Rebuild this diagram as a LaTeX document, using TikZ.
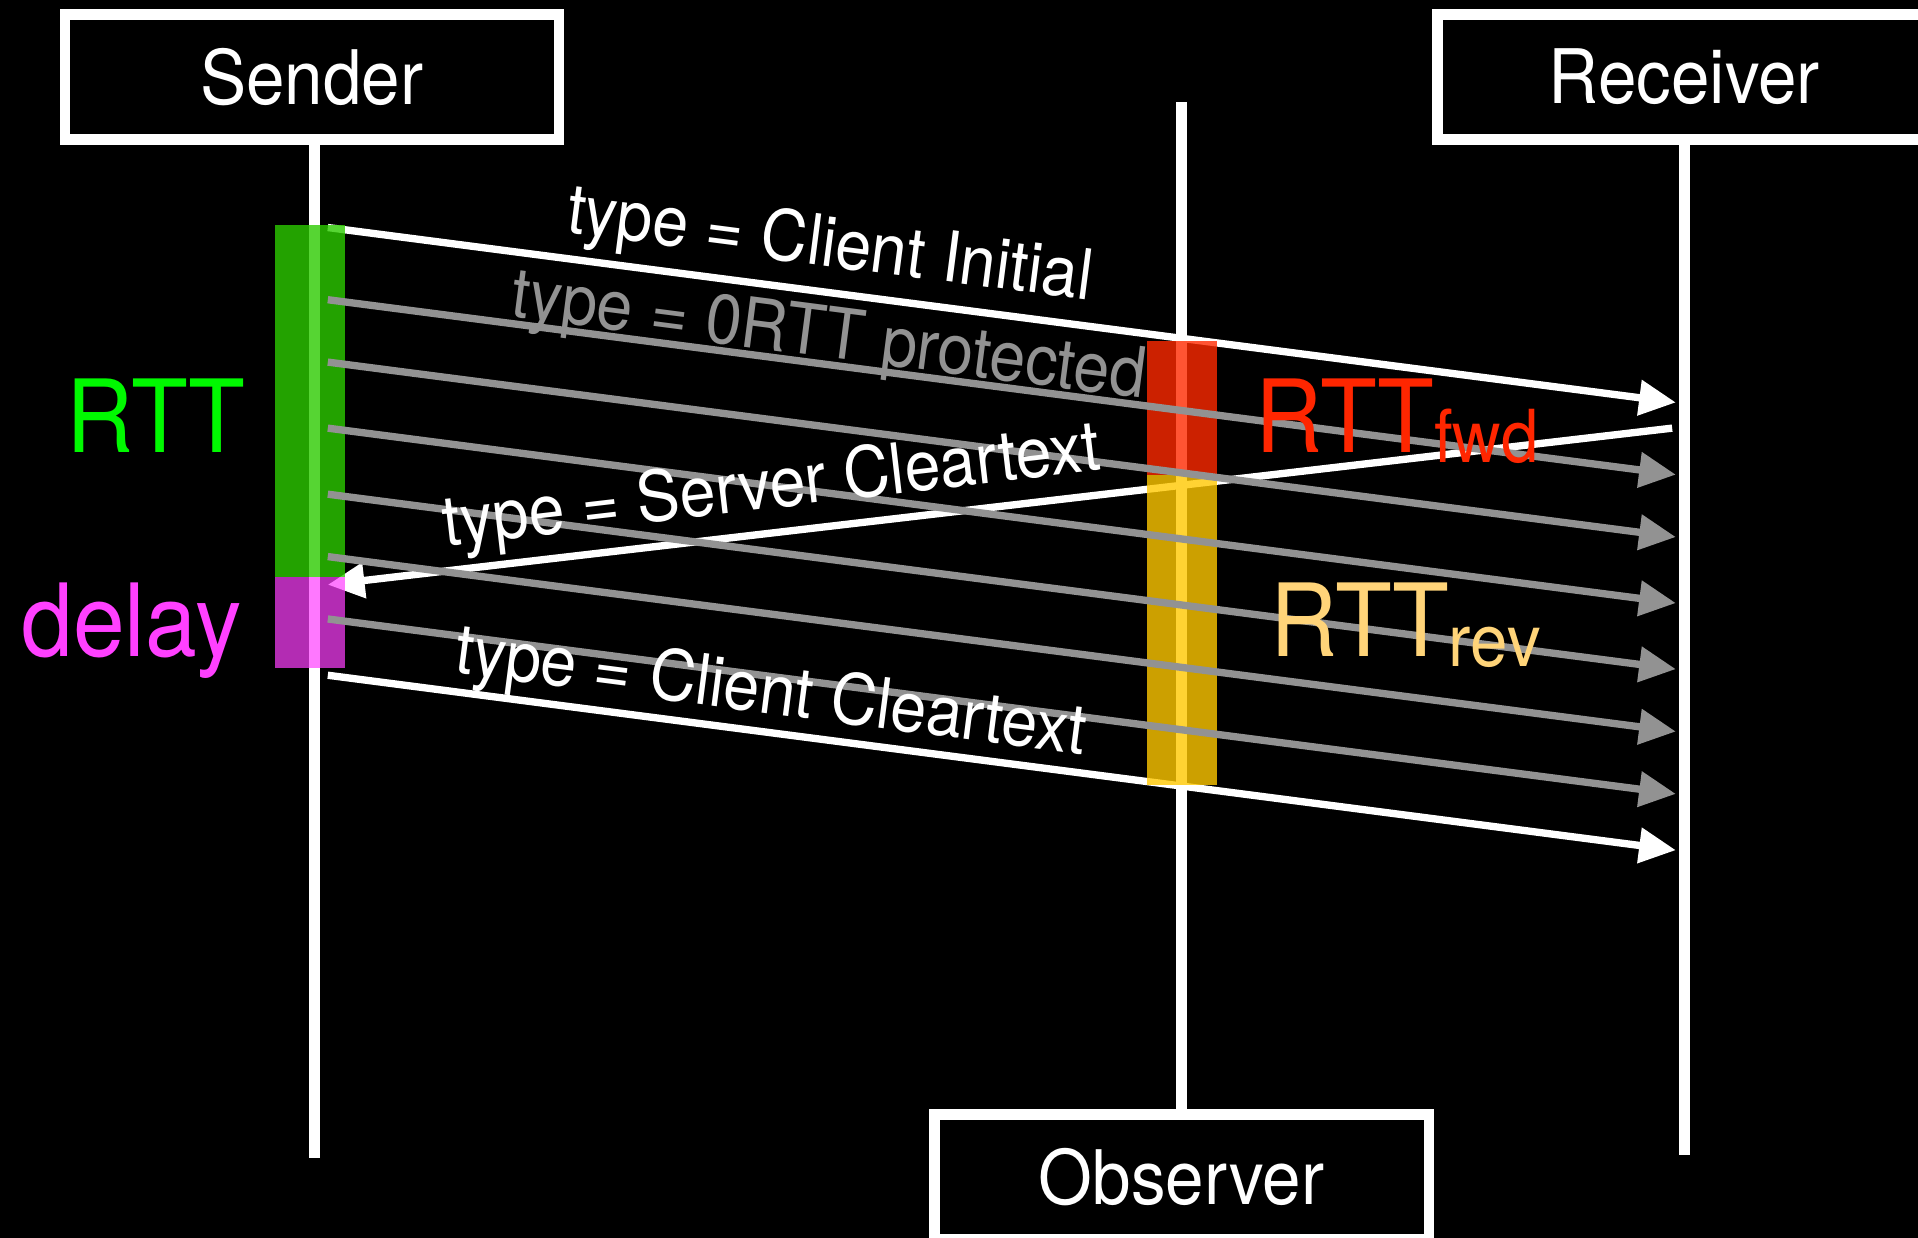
\documentclass[tikz,border=0pt]{standalone}
\usepackage{fontspec}
\setmainfont{TeX Gyre Heros}[FakeStretch=0.92]
\usetikzlibrary{arrows.meta}

\definecolor{msggray}{RGB}{146,146,146}
\definecolor{rttgreen}{RGB}{0,249,0}
\definecolor{delaypink}{RGB}{255,64,255}
\definecolor{fwdred}{RGB}{255,38,0}
\definecolor{revorange}{RGB}{255,212,121}
\definecolor{rttbar}{RGB}{44,203,0}
\definecolor{delaybar}{RGB}{255,64,255}
\definecolor{fwdbar}{RGB}{255,42,0}
\definecolor{revbar}{RGB}{255,200,0}
\newcommand\lblsub{\fontsize{17}{20}\selectfont}

\begin{document}
\begin{tikzpicture}[>={Triangle[length=0.3cm,width=0.28cm]},
    actor/.style={draw=white,line width=0.085cm,fill=black,text=white,
      minimum width=4.04cm,minimum height=1.02cm,
      font=\fontsize{17.5}{20}\selectfont},
    life/.style={white,line width=0.09cm},
    msg/.style={->,line width=0.06cm},
    lbl/.style={sloped,inner sep=0pt,font=\fontsize{16.3}{19}\selectfont},
    big/.style={inner sep=0pt,font=\fontsize{23.5}{28}\selectfont}]
  \useasboundingbox (0,0) rectangle (15.68,-10.12);
  \clip (0,0) rectangle (15.68,-10.12);
  \fill[black] (0,0) rectangle (15.68,-10.12);

  \node[actor] (sender) at (2.55,-0.63) {Sender};
  \node[actor] (receiver) at (13.77,-0.63) {Receiver};
  \node[actor] (observer) at (9.66,-9.62) {Observer};

  \draw[life] ([xshift=0.02cm]sender.south) -- ++(0,-8.28);
  \draw[life] (receiver.south) -- ++(0,-8.26);
  \draw[life] (observer.north) -- ++(0,8.23);

  % packet send and arrival points
  \foreach \i/\y in {1/1.86,2/2.45,3/2.96,4/3.50,5/4.04,6/4.55,7/5.06,8/5.52}{
    \coordinate (s\i) at (2.68,-\y);
    \coordinate (r\i) at (13.70,-\y-1.43);
  }
  \coordinate (rback) at (13.67,-3.50);
  \coordinate (sback) at (2.68,-4.78);

  \draw[msg,white] (s1) -- (r1);
  \draw[msg,white] (s8) -- (r8);
  \draw[msg,white] (rback) -- (sback);

  \fill[rttbar,fill opacity=0.8] (2.25,-1.84) rectangle (2.82,-4.72);
  \fill[delaybar,fill opacity=0.7] (2.25,-4.72) rectangle (2.82,-5.46);
  \fill[fwdbar,fill opacity=0.8] (9.38,-2.79) rectangle (9.95,-3.88);
  \fill[revbar,fill opacity=0.8] (9.38,-3.88) rectangle (9.95,-6.42);

  \foreach \i in {2,...,7}
    \draw[msg,msggray] (s\i) -- (r\i);

  \path (s1) -- (r1) node[lbl,above=0.08cm,pos=0.368,text=white] (lblinit) {type = Client Initial};
  \path (s2) -- (r2) node[lbl,above=-0.075cm,pos=0.369,text=msggray] (lblzero) {type = 0RTT protected};
  \path (rback) -- (sback) node[lbl,above=0.07cm,pos=0.666,text=white] (lblserver) {type = Server Cleartext};
  \path (s8) -- (r8) node[lbl,above=0.02cm,pos=0.325,text=white] (lblclient) {type = Client Cleartext};

  \node[big,anchor=base,text=rttgreen] (rtt) at (1.275,-3.70) {RTT};
  \node[big,anchor=base,text=delaypink] (delay) at (1.075,-5.37) {delay};
  \node[big,anchor=base west,text=fwdred] (rttfwd) at (10.26,-3.70) {RTT\raisebox{-2.3pt}{\lblsub fwd}};
  \node[big,anchor=base west,text=revorange] (rttrev) at (10.38,-5.37) {RTT\raisebox{-2.3pt}{\lblsub rev}};
\end{tikzpicture}
\end{document}
